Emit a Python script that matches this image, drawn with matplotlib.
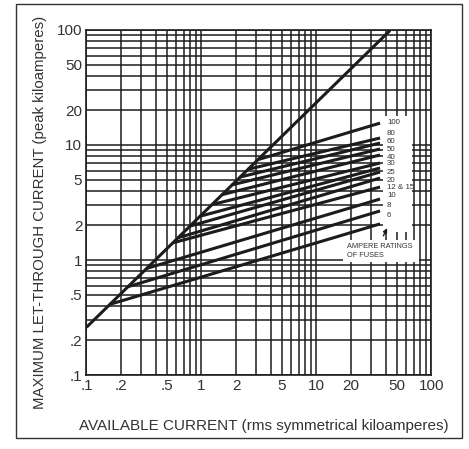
import numpy as np
import matplotlib.pyplot as plt
from matplotlib.patches import Rectangle
from matplotlib.ticker import LogLocator, FixedLocator, NullFormatter

plt.rcParams['font.family'] = ['Liberation Sans', 'DejaVu Sans']

# envelope: peak current with no fuse
env_x = [0.1, 43.6]
env_y = [0.26, 99.0]

# fuse curves, start on the envelope and end near 36 kA
ratings = ['6', '8', '10', '12', '15', '20', '25', '30', '40', '50', '60', '80', '100']
start_x = [0.16, 0.23, 0.334, 0.565, 0.625, 0.794, 0.97, 1.23, 1.51, 1.84, 2.16, 2.54, 3.1]
start_y = [0.412, 0.586, 0.845, 1.41, 1.56, 1.97, 2.40, 3.03, 3.70, 4.50, 5.26, 6.15, 7.46]
end_x = [35.7] * 13
end_y = [2.06, 2.67, 3.39, 4.31, 5.16, 5.82, 6.31, 6.97, 8.19, 9.23, 10.4, 11.5, 15.5]

# right-hand labels (top to bottom)
label_txt = ['100', '80', '60', '50', '40', '30', '25', '20', '12 & 15', '10', '8', '6']
label_pos = [0.7325, 0.7006, 0.678, 0.655, 0.63, 0.6116, 0.588, 0.565, 0.544, 0.5217, 0.49, 0.461]

ticks = [0.1, 0.2, 0.5, 1, 2, 5, 10, 20, 50, 100]
tick_lbl = ['.1', '.2', '.5', '1', '2', '5', '10', '20', '50', '100']

txt_col = '#333333'
line_col = '#1c1c1c'

fig = plt.figure(figsize=(4.69, 4.49), dpi=100)
ax = fig.add_axes([0.1844, 0.1648, 0.7356, 0.7684])
ax.set_xscale('log')
ax.set_yscale('log')
ax.set_xlim(0.1, 100)
ax.set_ylim(0.1, 100)

ax.xaxis.set_major_locator(FixedLocator(ticks))
ax.yaxis.set_major_locator(FixedLocator(ticks))
ax.set_xticklabels(tick_lbl)
ax.set_yticklabels(tick_lbl)
ax.xaxis.set_minor_locator(LogLocator(base=10, subs=np.arange(1, 10)))
ax.yaxis.set_minor_locator(LogLocator(base=10, subs=np.arange(1, 10)))
ax.xaxis.set_minor_formatter(NullFormatter())
ax.yaxis.set_minor_formatter(NullFormatter())
ax.tick_params(which='both', length=0, labelsize=11, labelcolor=txt_col, pad=3)
ax.grid(which='both', color=line_col, lw=1.1)
for s in ax.spines.values():
    s.set_color(line_col)
    s.set_linewidth(1.2)

ax.plot(env_x, env_y, color=line_col, lw=2.2, zorder=4, solid_capstyle='butt')
for i in range(len(ratings)):
    ax.plot([start_x[i], end_x[i]], [start_y[i], end_y[i]], color=line_col, lw=2.2,
            zorder=4, solid_capstyle='butt')

# white boxes over grid for labels
ax.add_patch(Rectangle((0.859, 0.4145), 0.085, 0.336, transform=ax.transAxes,
                       facecolor='white', edgecolor='none', zorder=3))
ax.add_patch(Rectangle((0.7435, 0.3275), 0.22, 0.0635, transform=ax.transAxes,
                       facecolor='white', edgecolor='none', zorder=3))
for t, p in zip(label_txt, label_pos):
    ax.text(0.871, p, t, transform=ax.transAxes, fontsize=5.7, color=txt_col,
            va='center', ha='left', zorder=5)
ax.text(0.754, 0.3725, 'AMPERE RATINGS', transform=ax.transAxes, fontsize=5.3,
        color=txt_col, va='center', ha='left', zorder=5)
ax.text(0.754, 0.346, 'OF FUSES', transform=ax.transAxes, fontsize=5.3,
        color=txt_col, va='center', ha='left', zorder=5)
ax.annotate('', xy=(0.875, 0.433), xytext=(0.857, 0.396), xycoords='axes fraction',
            arrowprops=dict(arrowstyle='-|>', color=line_col, lw=1.0, mutation_scale=6),
            zorder=5)

ax.set_xlabel('AVAILABLE CURRENT (rms symmetrical kiloamperes)', fontsize=11,
              color=txt_col)
ax.set_ylabel('MAXIMUM LET-THROUGH CURRENT (peak kiloamperes)', fontsize=10.8,
              color=txt_col)
ax.xaxis.set_label_coords(0.5145, -0.148)
ax.yaxis.set_label_coords(-0.135, 0.4725)
ax.xaxis.label.set_va('center')
ax.yaxis.label.set_va('center')

fig.add_artist(Rectangle((0.0341, 0.0245), 0.9509, 0.9665, transform=fig.transFigure,
                         facecolor='none', edgecolor='#333333', lw=1.0))

plt.savefig('out.png', dpi=100)
